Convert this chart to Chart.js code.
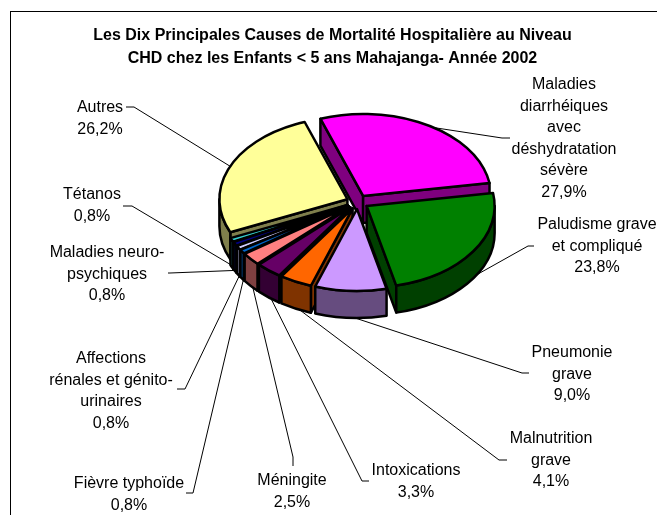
<!DOCTYPE html>
<html>
<head>
<meta charset="utf-8">
<title>Causes de mortalité hospitalière</title>
<script src="https://cdn.jsdelivr.net/npm/chart.js@4"></script>
<style>
  html, body { margin: 0; padding: 0; background: #fff; overflow: hidden; }
  #wrap { position: relative; width: 657px; height: 515px; }
  #frame { position: absolute; left: 10px; top: 11px; right: 0; bottom: 0;
           border-top: 1.5px solid #000; border-left: 1.5px solid #000; }
  canvas { position: absolute; left: 0; top: 0; }
</style>
</head>
<body>
<div id="wrap">
  <div id="frame"></div>
  <canvas id="chart" width="657" height="515"></canvas>
</div>
<script>
// Data
const causes = [
  'Maladies\ndiarrhéiques\navec\ndéshydratation\nsévère',
  'Paludisme grave\net compliqué',
  'Pneumonie\ngrave',
  'Malnutrition\ngrave',
  'Intoxications',
  'Méningite',
  'Fièvre typhoïde',
  'Affections\nrénales et génito-\nurinaires',
  'Maladies neuro-\npsychiques',
  'Tétanos',
  'Autres'
];
const values = [27.9, 23.8, 9.0, 4.1, 3.3, 2.5, 0.8, 0.8, 0.8, 0.8, 26.2];
const sliceColors = ['#FF00FF', '#008000', '#CC99FF', '#FF6600', '#660066', '#FF8080',
                     '#0066CC', '#CCCCFF', '#000080', '#33CCCC', '#FFFF99'];
const titleLines = [
  'Les Dix Principales Causes de Mortalité Hospitalière au Niveau',
  'CHD chez les Enfants < 5 ans Mahajanga- Année 2002'
];

// Label placement: centre x, first line y, then the leader elbow points from the text outwards
const labelLayout = [
  { x: 564, y: 85,  leader: [[510, 138], [502, 138]] },
  { x: 597, y: 225, leader: [[534, 246], [528, 246]] },
  { x: 572, y: 353, leader: [[529, 373], [522, 373]] },
  { x: 551, y: 439, leader: [[507, 460], [499, 460]] },
  { x: 416, y: 471, leader: [[369, 481], [362, 481]] },
  { x: 292, y: 481, leader: [[293, 466], [293, 457]] },
  { x: 129, y: 484, leader: [[186, 493], [193, 493]] },
  { x: 111, y: 359, leader: [[177, 389], [185, 389]] },
  { x: 107, y: 253, leader: [[168, 273], [170, 273]] },
  { x: 92,  y: 195, leader: [[123, 206], [132, 206]] },
  { x: 100, y: 108, leader: [[126, 107], [134, 107]] }
];

// 3D look
const pieCenter = { x: 357.5, y: 202 };
const squash = 0.64;
const depth = 27;
const explode = 11;
const radius = 128;
const fontFamily = "'Liberation Sans', Arial, sans-serif";

function darken(hex) {
  const n = parseInt(hex.slice(1), 16);
  const r = (n >> 16) >> 1, g = ((n >> 8) & 255) >> 1, b = (n & 255) >> 1;
  return 'rgb(' + r + ',' + g + ',' + b + ')';
}

function formatPct(v) {
  return v.toFixed(1).replace('.', ',') + '%';
}

const pie3d = {
  id: 'pie3d',
  beforeDatasetDraw(chart, args) {
    const ctx = chart.ctx;
    const arcs = args.meta.data;

    // hub of a slice on screen, pushed out along its middle angle
    const hub = a => {
      const mid = (a.startAngle + a.endAngle) / 2;
      return {
        mid: mid,
        x: pieCenter.x + explode * Math.cos(mid),
        y: pieCenter.y + explode * Math.sin(mid) * squash
      };
    };
    const rim = (h, ang, r) => ({ x: h.x + r * Math.cos(ang), y: h.y + r * Math.sin(ang) * squash });

    ctx.save();

    // leader lines go under the pie
    ctx.strokeStyle = '#000';
    ctx.lineWidth = 1;
    arcs.forEach((a, i) => {
      const h = hub(a);
      const p = rim(h, h.mid, a.outerRadius - 2);
      const pts = labelLayout[i].leader;
      ctx.beginPath();
      ctx.moveTo(pts[0][0], pts[0][1]);
      ctx.lineTo(pts[1][0], pts[1][1]);
      ctx.lineTo(p.x, p.y + (Math.sin(h.mid) > 0 ? depth : 0));
      ctx.stroke();
    });

    ctx.lineWidth = 2.5;
    ctx.lineJoin = 'round';
    ctx.strokeStyle = '#000';

    const order = arcs.map((a, i) => i).sort((i, j) => {
      const mi = (arcs[i].startAngle + arcs[i].endAngle) / 2;
      const mj = (arcs[j].startAngle + arcs[j].endAngle) / 2;
      return Math.sin(mi) - Math.sin(mj);
    });

    // walls, back to front
    order.forEach(i => {
      const a = arcs[i];
      const h = hub(a);
      const r = a.outerRadius;
      ctx.fillStyle = darken(sliceColors[i]);
      const face = ang => {
        const p = rim(h, ang, r);
        ctx.beginPath();
        ctx.moveTo(h.x, h.y);
        ctx.lineTo(p.x, p.y);
        ctx.lineTo(p.x, p.y + depth);
        ctx.lineTo(h.x, h.y + depth);
        ctx.closePath();
        ctx.fill();
        ctx.stroke();
      };
      if (Math.cos(a.startAngle) < 0) face(a.startAngle);
      if (Math.cos(a.endAngle) > 0) face(a.endAngle);
      const from = Math.max(a.startAngle, 0);
      const to = Math.min(a.endAngle, Math.PI);
      if (to > from) {
        ctx.beginPath();
        ctx.ellipse(h.x, h.y, r, r * squash, 0, from, to);
        ctx.ellipse(h.x, h.y + depth, r, r * squash, 0, to, from, true);
        ctx.closePath();
        ctx.fill();
        ctx.stroke();
      }
    });

    // tops: the library fills the arcs, squashed and moved into place
    order.forEach(i => {
      const a = arcs[i];
      const h = hub(a);
      ctx.save();
      ctx.translate(h.x, h.y);
      ctx.scale(1, squash);
      ctx.translate(-a.x, -a.y);
      a.draw(ctx);
      ctx.restore();
      // outline here so its width is not squashed
      ctx.beginPath();
      ctx.moveTo(h.x, h.y);
      ctx.ellipse(h.x, h.y, a.outerRadius, a.outerRadius * squash, 0, a.startAngle, a.endAngle);
      ctx.closePath();
      ctx.stroke();
    });

    // labels
    ctx.fillStyle = '#000';
    ctx.font = '16px ' + fontFamily;
    ctx.textAlign = 'center';
    ctx.textBaseline = 'middle';
    causes.forEach((c, i) => {
      const lines = c.split('\n').concat(formatPct(values[i]));
      lines.forEach((t, k) => {
        ctx.fillText(t, labelLayout[i].x, labelLayout[i].y + k * 21.5);
      });
    });

    ctx.restore();
    return false;
  }
};

new Chart(document.getElementById('chart'), {
  type: 'pie',
  data: {
    labels: causes,
    datasets: [{
      data: values,
      backgroundColor: sliceColors,
      borderWidth: 0,
      radius: radius
    }]
  },
  options: {
    responsive: false,
    animation: false,
    rotation: -19.5,
    layout: { padding: { left: 8 } },
    plugins: {
      legend: { display: false },
      tooltip: { enabled: false },
      title: {
        display: true,
        text: titleLines,
        color: '#000',
        font: { family: fontFamily, size: 16, weight: 'bold', lineHeight: 1.44 },
        padding: { top: 24, bottom: 10 }
      }
    }
  },
  plugins: [pie3d]
});
</script>
</body>
</html>
